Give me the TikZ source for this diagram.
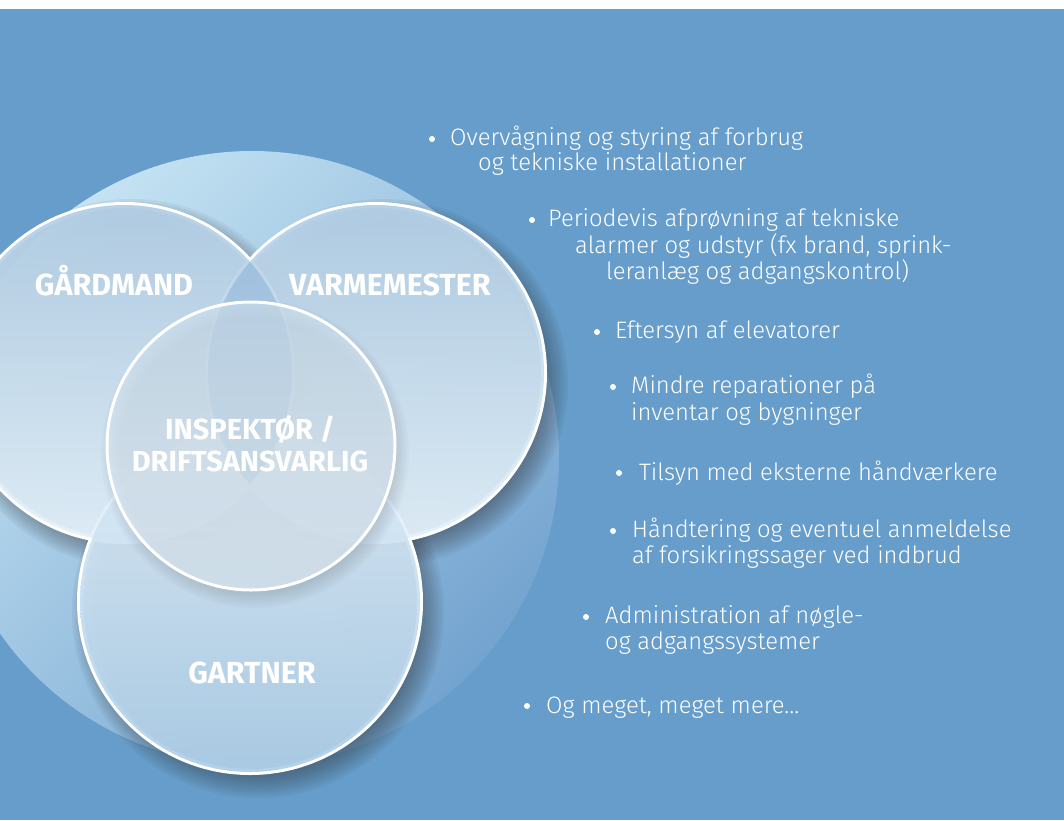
\documentclass[tikz,border=0pt]{standalone}
\usepackage{fontspec}
\setmainfont{Fira Sans}
\newfontfamily\lightfont{Fira Sans Light}
\usetikzlibrary{calc}

\definecolor{bgblue}{RGB}{102,157,202}
\definecolor{bigtop}{RGB}{197,227,243}
\definecolor{bigbot}{RGB}{115,163,207}
\definecolor{ringtop}{RGB}{178,206,229}
\definecolor{ringbot}{RGB}{228,242,251}
\definecolor{garttop}{RGB}{222,236,247}
\definecolor{gartbot}{RGB}{174,207,232}
\definecolor{insptop}{RGB}{206,225,240}
\definecolor{inspbot}{RGB}{226,239,248}
\definecolor{lenscol}{RGB}{100,150,200}
\definecolor{shadowcol}{RGB}{50,55,62}

\begin{document}
\begin{tikzpicture}[x=1pt,y=-1pt]
    \tikzset{role/.style = {text=white, font=\bfseries\fontsize{30.5}{32}\selectfont, align=center, inner sep=0pt}}
    \tikzset{task/.style = {text=white, font=\lightfont\fontsize{23.8}{26}\selectfont, anchor=base west, inner sep=0pt}}
    \tikzset{rim/.style = {draw=white, line width=6pt}}

    \useasboundingbox (0,0) rectangle (1064,820);
    \clip (0,0) rectangle (1064,820);

    % background
    \fill[bgblue] (0,9) rectangle (1064,820);
    \fill[white] (0,0) rectangle (1064,9);

    % centres
    \coordinate (big) at (252,458);
    \coordinate (gaard) at (124,373);
    \coordinate (varme) at (376,373);
    \coordinate (gart) at (250,602);
    \coordinate (insp) at (251,446);

    % big circle
    \shade[top color=bigtop, bottom color=bigbot, shading angle=45] (big) circle (307);

    % shadows
    \foreach \c/\r in {gaard/168, varme/168, gart/170}
        \foreach \k in {0,...,9}
            \fill[shadowcol, opacity=0.06] ($(\c)+(8,10)$) circle ({\r+16-2.6*\k});

    % rims, then the fills over them
    \foreach \c/\r in {gaard/168, varme/168, gart/170}
        \draw[rim] (\c) circle (\r);
    \shade[top color=ringtop, bottom color=ringbot, opacity=0.94] (gaard) circle (168);
    \shade[top color=ringtop, bottom color=ringbot, opacity=0.94] (varme) circle (168);
    \shade[top color=garttop, bottom color=gartbot, opacity=0.94] (gart) circle (170);

    % lens
    \begin{scope}
        \clip (gaard) circle (168);
        \fill[lenscol, opacity=0.3] (varme) circle (168);
    \end{scope}

    % inner circle
    \foreach \k in {0,...,9}
        \fill[shadowcol, opacity=0.02] ($(insp)+(4,8)$) circle ({154-2*\k});
    \shade[top color=insptop, bottom color=inspbot, opacity=0.68] (insp) circle (144);
    \draw[white, line width=3pt] (insp) circle (144);

    % labels
    \node[role, anchor=base] (gaardlbl) at (114,295) {GÅRDMAND};
    \node[role, anchor=base] (varmelbl) at (390,295) {VARMEMESTER};
    \node[role, font=\bfseries\fontsize{29}{32}\selectfont] (insplbl) at (250,444) {INSPEKTØR /\\DRIFTSANSVARLIG};
    \node[role, anchor=base] (gartlbl) at (252,683) {GARTNER};

    % list
    \node[task] (t1a) at (450,145) {Overvågning og styring af forbrug};
    \node[task] (t1b) at (478,170) {og tekniske installationer};
    \node[task] (t2a) at (548,226) {Periodevis afprøvning af tekniske};
    \node[task] (t2b) at (575,253) {alarmer og udstyr (fx brand, sprink-};
    \node[task] (t2c) at (606,279) {leranlæg og adgangskontrol)};
    \node[task] (t3a) at (615,338) {Eftersyn af elevatorer};
    \node[task] (t4a) at (631,393) {Mindre reparationer på};
    \node[task] (t4b) at (631,420) {inventar og bygninger};
    \node[task] (t5a) at (639,480) {Tilsyn med eksterne håndværkere};
    \node[task] (t6a) at (632,537) {Håndtering og eventuel anmeldelse};
    \node[task] (t6b) at (632,563) {af forsikringssager ved indbrud};
    \node[task] (t7a) at (605,623) {Administration af nøgle-};
    \node[task] (t7b) at (605,649) {og adgangssystemer};
    \node[task] (t8a) at (546,713) {Og meget, meget mere…};

    % bullets
    \foreach \x/\y in {432/139, 532/220, 597/332, 613/387, 619/473, 613/531, 586/617, 527/706}
        \fill[white] (\x,\y) circle (3);
\end{tikzpicture}
\end{document}
